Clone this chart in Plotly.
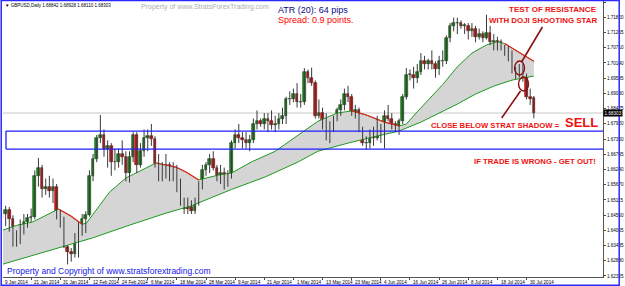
import plotly.graph_objects as go
import pandas as pd

# ---------------- data ----------------
DATES = pd.bdate_range("2014-01-09", "2014-08-01")  # daily bars, GBPUSD

OPEN = [1.6440,1.6460,1.6475,1.6440,1.6350,1.6360,1.6420,1.6430,1.6445,1.6450,
        1.6600,1.6630,1.6550,1.6560,1.6545,1.6560,1.6460,1.6430,1.6340,1.6320,
        1.6315,1.6370,1.6405,1.6440,1.6455,1.6600,1.6660,1.6740,1.6750,1.6700,
        1.6710,1.6650,1.6650,1.6680,1.6670,1.6610,1.6670,1.6750,1.6640,1.6690,
        1.6740,1.6745,1.6735,1.6645,1.6630,1.6610,1.6640,1.6610,1.6620,1.6560,
        1.6500,1.6480,1.6485,1.6470,1.6500,1.6560,1.6620,1.6640,1.6660,1.6630,
        1.6600,1.6610,1.6580,1.6600,1.6720,1.6750,1.6740,1.6730,1.6720,1.6730,
        1.6790,1.6800,1.6790,1.6810,1.6800,1.6785,1.6790,1.6810,1.6820,1.6880,
        1.6880,1.6900,1.6870,1.6870,1.6980,1.6960,1.6940,1.6820,1.6830,1.6780,
        1.6790,1.6780,1.6810,1.6840,1.6860,1.6900,1.6890,1.6830,1.6840,1.6770,
        1.6720,1.6720,1.6750,1.6740,1.6750,1.6780,1.6820,1.6810,1.6790,1.6780,
        1.6800,1.6890,1.6970,1.6970,1.6960,1.6980,1.7020,1.7010,1.7020,1.7010,
        1.6990,1.7020,1.7020,1.7105,1.7150,1.7160,1.7160,1.7150,1.7150,1.7130,
        1.7140,1.7110,1.7120,1.7105,1.7125,1.7090,1.7095,1.7090,1.7070,1.7060,
        1.7050,1.6985,1.6980,1.6985,1.6965,1.6890,1.68842]
HIGH = [1.6490,1.6490,1.6485,1.6455,1.6400,1.6440,1.6460,1.6460,1.6480,1.6620,
        1.6665,1.6640,1.6590,1.6600,1.6590,1.6570,1.6475,1.6450,1.6345,1.6335,
        1.6390,1.6430,1.6460,1.6470,1.6620,1.6680,1.6750,1.6823,1.6770,1.6730,
        1.6720,1.6700,1.6700,1.6730,1.6690,1.6690,1.6760,1.6760,1.6720,1.6770,
        1.6770,1.6790,1.6745,1.6680,1.6650,1.6680,1.6650,1.6650,1.6640,1.6590,
        1.6520,1.6520,1.6510,1.6520,1.6580,1.6640,1.6650,1.6680,1.6690,1.6640,
        1.6640,1.6630,1.6620,1.6730,1.6770,1.6790,1.6760,1.6760,1.6750,1.6810,
        1.6840,1.6810,1.6830,1.6830,1.6840,1.6820,1.6830,1.6850,1.6890,1.6910,
        1.6920,1.6940,1.6900,1.6995,1.6990,1.6997,1.6950,1.6880,1.6850,1.6830,
        1.6800,1.6820,1.6850,1.6880,1.6920,1.6930,1.6900,1.6860,1.6850,1.6780,
        1.6745,1.6770,1.6780,1.6820,1.6790,1.6840,1.6860,1.6830,1.6800,1.6810,
        1.6900,1.6995,1.6990,1.7000,1.7010,1.7050,1.7040,1.7030,1.7060,1.7020,
        1.7040,1.7060,1.7115,1.7160,1.7180,1.7180,1.7170,1.7160,1.7160,1.7160,
        1.7150,1.7140,1.7130,1.7191,1.7150,1.7120,1.7110,1.7100,1.7080,1.7075,
        1.7060,1.7000,1.7010,1.7010,1.6975,1.6920,1.68928]
LOW = [1.6410,1.6415,1.6395,1.6340,1.6340,1.6350,1.6385,1.6410,1.6430,1.6440,
       1.6560,1.6520,1.6530,1.6520,1.6500,1.6440,1.6410,1.6335,1.6275,1.6285,
       1.6300,1.6300,1.6380,1.6390,1.6450,1.6580,1.6650,1.6720,1.6670,1.6630,
       1.6600,1.6620,1.6630,1.6640,1.6580,1.6575,1.6650,1.6610,1.6630,1.6670,
       1.6690,1.6710,1.6630,1.6580,1.6580,1.6590,1.6580,1.6580,1.6540,1.6490,
       1.6460,1.6460,1.6460,1.6460,1.6490,1.6550,1.6600,1.6610,1.6620,1.6580,
       1.6570,1.6550,1.6560,1.6590,1.6700,1.6720,1.6700,1.6700,1.6690,1.6720,
       1.6770,1.6780,1.6770,1.6760,1.6770,1.6760,1.6770,1.6790,1.6790,1.6860,
       1.6870,1.6850,1.6850,1.6860,1.6940,1.6930,1.6810,1.6810,1.6770,1.6730,
       1.6720,1.6760,1.6800,1.6820,1.6840,1.6870,1.6820,1.6810,1.6760,1.6710,
       1.6695,1.6700,1.6710,1.6730,1.6720,1.6700,1.6800,1.6770,1.6760,1.6750,
       1.6790,1.6880,1.6950,1.6920,1.6940,1.6970,1.6990,1.6990,1.6990,1.6960,
       1.6970,1.7000,1.7010,1.7090,1.7130,1.7120,1.7140,1.7120,1.7100,1.7110,
       1.7090,1.7100,1.7090,1.7100,1.7080,1.7060,1.7060,1.7060,1.7040,1.7020,
       1.6975,1.6955,1.6960,1.6945,1.6880,1.6860,1.68110]
CLOSE = [1.6460,1.6475,1.6440,1.6350,1.6360,1.6420,1.6430,1.6445,1.6450,1.6600,
         1.6630,1.6550,1.6560,1.6545,1.6560,1.6460,1.6430,1.6340,1.6320,1.6315,
         1.6370,1.6405,1.6440,1.6455,1.6600,1.6660,1.6740,1.6750,1.6700,1.6710,
         1.6650,1.6650,1.6680,1.6670,1.6610,1.6670,1.6750,1.6640,1.6690,1.6740,
         1.6745,1.6735,1.6645,1.6630,1.6610,1.6640,1.6610,1.6620,1.6560,1.6500,
         1.6480,1.6485,1.6470,1.6500,1.6560,1.6620,1.6640,1.6660,1.6630,1.6600,
         1.6610,1.6580,1.6600,1.6720,1.6750,1.6740,1.6730,1.6720,1.6730,1.6790,
         1.6800,1.6790,1.6810,1.6800,1.6785,1.6790,1.6810,1.6820,1.6880,1.6880,
         1.6900,1.6870,1.6870,1.6980,1.6960,1.6940,1.6820,1.6830,1.6780,1.6790,
         1.6780,1.6810,1.6840,1.6860,1.6900,1.6890,1.6830,1.6840,1.6770,1.6720,
         1.6720,1.6750,1.6740,1.6750,1.6780,1.6820,1.6810,1.6790,1.6780,1.6800,
         1.6890,1.6970,1.6970,1.6960,1.6980,1.7020,1.7010,1.7020,1.7010,1.6990,
         1.7020,1.7020,1.7105,1.7150,1.7160,1.7160,1.7150,1.7150,1.7130,1.7140,
         1.7110,1.7120,1.7105,1.7125,1.7090,1.7095,1.7090,1.7070,1.7060,1.7050,
         1.6985,1.6980,1.6985,1.6965,1.6890,1.6880,1.68303]

# "Strat shadow" band: upper edge and lower edge (bar index, price)
UPPER_IDX = [0, 4, 8.5, 12, 15.5, 19, 22, 23.2, 26.7, 29.5, 34, 38.5, 42.3, 47.7, 50.5, 54,
             59.5, 63, 68.5, 75, 81, 86.7, 92, 96, 100, 105, 109, 111, 114, 118, 121, 125,
             129, 133, 136, 138, 141, 143.5, 146]
UPPER_VAL = [1.6400, 1.6418, 1.6431, 1.6455, 1.6478, 1.6452, 1.6422, 1.6427, 1.6490, 1.6540,
             1.6592, 1.6621, 1.6647, 1.6632, 1.6614, 1.6585, 1.6603, 1.6610, 1.6651, 1.6690,
             1.6745, 1.6800, 1.6830, 1.6838, 1.6823, 1.6797, 1.6783, 1.6790, 1.6835, 1.6890,
             1.6935, 1.7000, 1.7050, 1.7080, 1.7092, 1.7085, 1.7062, 1.7040, 1.7020]
UPPER_RED_SPANS = [(15.5, 22), (42.3, 54), (96, 109), (138, 146)]
LOWER_IDX = [0, 15.8, 24.8, 35, 45, 52, 63, 72.3, 81.3, 86.7, 95, 103, 109, 115, 120, 125,
             130, 135, 140, 146]
LOWER_VAL = [1.6275, 1.6335, 1.6372, 1.6419, 1.6463, 1.6490, 1.6550, 1.6596, 1.6651, 1.6690,
             1.6720, 1.6746, 1.6764, 1.6797, 1.6830, 1.6863, 1.6900, 1.6929, 1.6951, 1.6966]

RESIST_TOP, RESIST_BOT = 1.6764, 1.6698
Y_TICKS = [1.62325, 1.62880, 1.63435, 1.64005, 1.64560, 1.65115, 1.65670, 1.66240, 1.66795,
           1.67350, 1.67920, 1.68475, 1.69030, 1.69585, 1.70140, 1.70710, 1.71265, 1.71820,
           1.72375]
LABEL_STEP = 8

# ---------------- layout helpers (pixel geometry) ----------------
W, H = 625, 286
PL, PR, PT, PB = 3, 607, 1, 277
def px(x): return (x - PL) / (PR - PL)
def py(y): return (PB - y) / (PB - PT)

FONT = "Liberation Sans, Arial, sans-serif"
GREEN_LINE = "#1e9a1e"
RED_LINE = "#ee2020"

n = len(CLOSE)
idx = list(range(n))

fig = go.Figure()

# band
fig.add_trace(go.Scatter(x=LOWER_IDX, y=LOWER_VAL, mode="lines",
                         line=dict(color=GREEN_LINE, width=1), hoverinfo="skip"))
fig.add_trace(go.Scatter(x=UPPER_IDX, y=UPPER_VAL, mode="lines", fill="tonexty",
                         fillcolor="#d5d5d5", line=dict(color=GREEN_LINE, width=1),
                         hoverinfo="skip"))
for a, b in UPPER_RED_SPANS:
    sx = [u for u in UPPER_IDX if a <= u <= b]
    sy = [v for u, v in zip(UPPER_IDX, UPPER_VAL) if a <= u <= b]
    fig.add_trace(go.Scatter(x=sx, y=sy, mode="lines",
                             line=dict(color=RED_LINE, width=1.2), hoverinfo="skip"))

# wicks
wx, wy = [], []
for i in idx:
    wx += [i, i, None]
    wy += [LOW[i], HIGH[i], None]
fig.add_trace(go.Scatter(x=wx, y=wy, mode="lines",
                         line=dict(color="#3a3a3a", width=1), hoverinfo="skip"))

# bodies
MIN_BODY = 0.00018
up = [i for i in idx if CLOSE[i] >= OPEN[i]]
dn = [i for i in idx if CLOSE[i] < OPEN[i]]
fig.add_trace(go.Bar(x=up, base=[OPEN[i] for i in up],
                     y=[max(CLOSE[i] - OPEN[i], MIN_BODY) for i in up],
                     width=0.72, marker=dict(color="#1c8c1c", line=dict(color="#0b3d0b", width=0.6))))
fig.add_trace(go.Bar(x=dn, base=[CLOSE[i] for i in dn],
                     y=[max(OPEN[i] - CLOSE[i], MIN_BODY) for i in dn],
                     width=0.72, marker=dict(color="#e41414", line=dict(color="#5a0a0a", width=0.6))))

# ---------------- shapes ----------------
shapes = []
blue = "#1f1fff"
shapes.append(dict(type="line", xref="paper", yref="y", x0=0, x1=1,
                   y0=CLOSE[-1], y1=CLOSE[-1], line=dict(color="#c8c8c8", width=1), layer="below"))
for yv in (RESIST_TOP, RESIST_BOT):
    shapes.append(dict(type="line", xref="paper", yref="y", x0=px(6), x1=1, y0=yv, y1=yv,
                       line=dict(color=blue, width=1.3)))
shapes.append(dict(type="line", xref="paper", yref="y", x0=px(6), x1=px(6),
                   y0=RESIST_BOT, y1=RESIST_TOP, line=dict(color=blue, width=1.3)))
# window border
shapes.append(dict(type="rect", xref="paper", yref="paper", x0=px(1.2), x1=px(623.3),
                   y0=py(285.3), y1=py(0.6), line=dict(color="#2a2aff", width=1.5)))
# arrows and circles
dark = "#8b1010"
shapes.append(dict(type="line", xref="paper", yref="paper", x0=px(546), y0=py(27),
                   x1=px(525), y1=py(62), line=dict(color=dark, width=1.6)))
shapes.append(dict(type="line", xref="paper", yref="paper", x0=px(505), y0=py(118),
                   x1=px(524), y1=py(91), line=dict(color=dark, width=1.6)))
shapes.append(dict(type="circle", xref="paper", yref="paper", x0=px(518), x1=px(528),
                   y0=py(75), y1=py(61), line=dict(color=dark, width=1.4)))
shapes.append(dict(type="circle", xref="paper", yref="paper", x0=px(522), x1=px(532),
                   y0=py(91), y1=py(77), line=dict(color=dark, width=1.4)))

# ---------------- annotations ----------------
ann = []
def text(x, y, s, size, color, xanchor="left", bold=False, family=FONT):
    ann.append(dict(xref="paper", yref="paper", x=px(x), y=py(y), text=(f"<b>{s}</b>" if bold else s),
                    showarrow=False, xanchor=xanchor, yanchor="middle",
                    font=dict(size=size, color=color, family=family)))

text(3, 6, "▼ GBPUSD,Daily 1.68842 1.68928 1.68110 1.68303", 4.5, "#000000")
text(140, 7, "Property of www.StratsForexTrading.com", 7, "#b0b0b0")
text(278, 10, "ATR (20): 64 pips", 9, "#0a0a8a")
text(278, 20, "Spread: 0.9 points.", 9, "#ff0000")
text(603, 9.5, "TEST OF RESISTANCE", 8, "#f01010", "right", True)
text(603, 20.5, "WITH DOJI SHOOTING STAR", 7.9, "#f01010", "right", True)
text(566, 125, "CLOSE BELOW STRAT SHADOW =", 7.7, "#f01010", "right", True)
text(567, 122.5, "SELL", 13, "#f01010", "left", True)
text(602, 161, "IF TRADE IS WRONG - GET OUT!", 7.75, "#f01010", "right", True)
text(5, 271, "Property and Copyright of www.stratsforextrading.com", 8.5, "#1515e8")

# date labels
for i in range(0, n, LABEL_STEP):
    d = DATES[i]
    ann.append(dict(xref="x", yref="paper", x=i + 0.3, y=py(282), text=f"{d.day} {d.strftime('%b %Y')}",
                    showarrow=False, xanchor="left", yanchor="middle",
                    font=dict(size=4.6, color="#000000", family=FONT)))
# current price label
ann.append(dict(xref="paper", yref="y", x=px(607.5), y=CLOSE[-1], text=f"{CLOSE[-1]:.5f}",
                showarrow=False, xanchor="left", yanchor="middle", bgcolor="#000000",
                borderpad=0.6, font=dict(size=4.6, color="#ffffff", family=FONT)))

fig.update_layout(
    width=W, height=H, margin=dict(l=PL, r=W - PR, t=PT, b=H - PB),
    paper_bgcolor="white", plot_bgcolor="white", showlegend=False,
    barmode="overlay", bargap=0, shapes=shapes, annotations=ann,
    xaxis=dict(range=[(PL - 2) / 3.667, (PR - 2) / 3.667], showgrid=False, zeroline=False,
               showticklabels=False, tickvals=list(range(0, n, LABEL_STEP)), ticks="outside",
               ticklen=2, tickcolor="#444", showline=True, linecolor="#555", linewidth=1),
    yaxis=dict(range=[1.62288, 1.72412], side="right", showgrid=False, zeroline=False,
               tickvals=Y_TICKS, ticktext=[f"{v:.5f}" for v in Y_TICKS], ticks="outside",
               ticklen=2, tickcolor="#444", showline=True, linecolor="#555", linewidth=1,
               tickfont=dict(size=4.6, color="#000000", family=FONT)),
)

fig.write_html("out.html")
